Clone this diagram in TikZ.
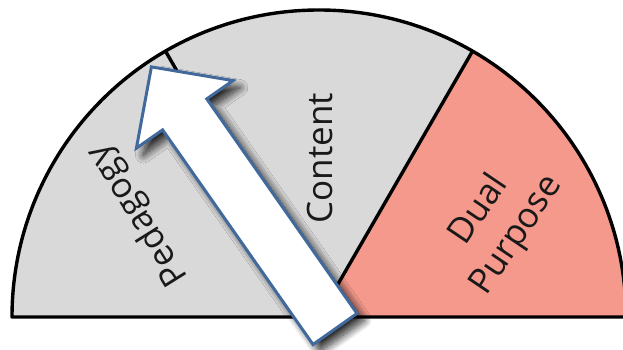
\documentclass[tikz,border=0pt]{standalone}
\usepackage{fontspec}
\setmainfont{Open Sans}
\usetikzlibrary{shadows.blur}
\definecolor{gaugegray}{HTML}{D9D9D9}
\definecolor{gaugered}{HTML}{F4998B}
\definecolor{arrowblue}{HTML}{41699B}
\begin{document}
\begin{tikzpicture}[x=1pt,y=1pt,
  sector/.style={line width=3.4pt, draw=black, line join=round},
  label/.style={font=\fontsize{35}{45}\selectfont, text=black!90, align=center, inner sep=0pt},
  needle/.style={fill=white, draw=arrowblue, line width=3pt, line join=miter,
    blur shadow={shadow xshift=7pt, shadow yshift=-7pt, shadow blur radius=8pt, shadow blur steps=14, shadow opacity=85}}]
\useasboundingbox (0,0) rectangle (623,350);
\clip (0,0) rectangle (623,350);
\coordinate (C) at (319,33);
% sectors
\fill[gaugegray] (C) -- ++(60:307pt) arc[start angle=60, end angle=180, radius=307pt] -- cycle;
\fill[gaugered] (C) -- ++(0:307pt) arc[start angle=0, end angle=60, radius=307pt] -- cycle;
\draw[sector] (C) ++(-307pt,0) arc[start angle=180, end angle=0, radius=307pt] -- cycle;
\draw[sector] (C) -- ++(60:307pt);
\draw[sector] (C) -- ++(120:307pt);
% labels
\node[label, rotate=122] (ped) at (139,135) {Pedagogy};
\node[label, rotate=90] (con) at (320,192) {Content};
\node[label, rotate=56] (dual) at (498,127) {Dual\\Purpose};
% arrow
\draw[needle] (357,36.5) -- (206.8,251.1) -- (233,269.4) -- (151.4,283.1)
  -- (136.4,201.8) -- (162.6,220.1) -- (313,5.5) -- cycle;
\end{tikzpicture}
\end{document}
